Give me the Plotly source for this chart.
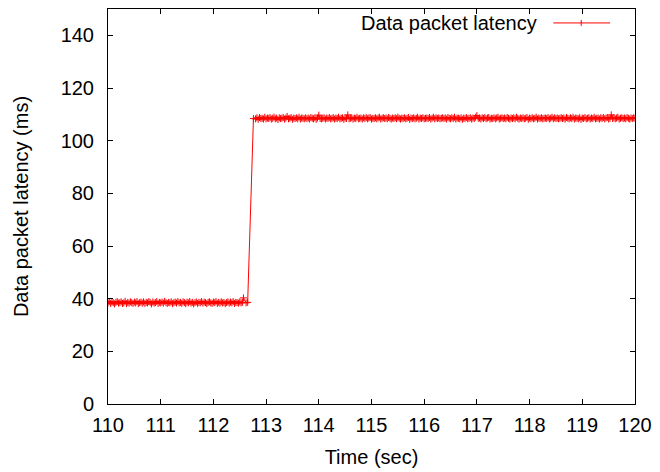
import numpy as np
import plotly.graph_objects as go

# Latency samples (ms) before the route change, sampled every 25 ms from t=110.000 s
low_start = 110.0
low_step = 0.025
low_latency = [
    38.4, 38.9, 38.2, 38.7, 38.5, 38.0, 38.6, 38.9, 38.3, 38.5,
    38.8, 38.2, 38.4, 39.0, 38.1, 38.6, 38.3, 38.8, 38.5, 38.2,
    38.7, 38.4, 38.9, 38.1, 38.5, 38.7, 38.3, 38.8, 38.2, 38.6,
    38.4, 38.9, 38.6, 38.0, 38.7, 38.3, 38.5, 38.9, 38.2, 38.6,
    38.4, 38.7, 38.3, 39.0, 38.5, 38.2, 38.6, 38.4, 38.8, 38.1,
    38.5, 38.7, 38.3, 38.9, 38.4, 38.6, 38.2, 38.8, 38.5, 38.1,
    38.7, 38.4, 38.9, 38.3, 38.6, 38.0, 38.5, 38.8, 38.2, 38.6,
    38.4, 38.9, 38.3, 38.7, 38.5, 38.1, 38.6, 38.8, 38.4, 38.2,
    38.7, 38.5, 38.9, 38.2, 38.6, 38.3, 38.8, 38.4, 38.6, 38.1,
    38.5, 38.8, 38.3, 38.7, 38.4, 38.9, 38.2, 38.6, 38.5, 38.3,
    38.8, 38.4, 38.6,
]

# Samples around the transition
transition_time = [112.57, 112.62, 112.65, 112.76]
transition_latency = [40.3, 38.4, 38.6, 108.4]

# Latency samples after the route change, every 25 ms from t=112.800 s
high_start = 112.8
high_step = 0.025
high_latency = [
    108.3, 108.7, 108.1, 108.8, 108.4, 108.5, 108.2, 108.9, 108.3, 108.6,
    108.4, 108.8, 108.2, 108.5, 108.9, 108.3, 108.6, 108.0, 108.7, 108.4,
    108.5, 108.8, 108.2, 108.6, 109.2, 108.3, 108.5, 108.8, 108.1, 108.6,
    108.4, 108.7, 108.3, 108.9, 108.2, 108.6, 108.5, 108.3, 108.7, 108.4,
    108.6, 108.2, 108.8, 108.5, 108.3, 108.7, 108.1, 108.6, 109.7, 108.4,
    108.3, 108.5, 108.7, 108.2, 108.6, 108.4, 108.8, 108.3, 108.5, 108.7,
    108.2, 108.6, 108.4, 108.9, 108.3, 108.5, 108.7, 108.1, 108.6, 108.4,
    109.8, 108.3, 108.5, 108.7, 108.2, 108.6, 108.4, 108.9, 108.3, 108.5,
    108.6, 108.2, 108.7, 108.4, 108.8, 108.3, 108.6, 108.8, 108.2, 108.5,
    108.4, 108.7, 108.3, 108.6, 108.9, 108.2, 108.5, 108.7, 108.4, 108.6,
    108.3, 108.8, 108.5, 108.2, 108.6, 108.4, 108.7, 108.3, 108.9, 108.5,
    108.2, 108.6, 108.4, 108.7, 108.3, 108.5, 108.8, 108.1, 108.6, 108.4,
    108.7, 108.3, 108.5, 108.9, 108.2, 108.6, 108.4, 108.7, 108.3, 108.5,
    108.6, 108.4, 108.8, 108.2, 108.5, 108.9, 108.3, 108.7, 108.4, 108.6,
    108.3, 108.5, 108.7, 108.4, 108.6, 108.2, 108.8, 108.5, 108.3, 108.7,
    108.4, 108.9, 108.2, 108.6, 108.5, 108.3, 108.7, 108.1, 108.6, 108.4,
    108.8, 108.3, 108.5, 108.7, 108.2, 108.6, 108.4, 108.9, 109.5, 108.5,
    108.6, 108.2, 108.7, 108.4, 108.8, 108.3, 108.6, 108.8, 108.2, 108.5,
    108.4, 108.7, 108.3, 108.6, 108.9, 108.2, 108.5, 108.7, 108.4, 108.6,
    108.3, 108.8, 108.5, 108.2, 108.6, 108.4, 108.7, 108.3, 108.9, 108.5,
    108.2, 108.6, 108.4, 108.7, 108.3, 108.5, 108.8, 108.1, 108.6, 108.4,
    108.7, 108.3, 108.5, 108.9, 108.2, 108.6, 108.4, 108.7, 108.3, 108.5,
    108.6, 108.4, 108.8, 108.2, 108.5, 108.9, 108.3, 108.7, 108.4, 108.6,
    108.3, 108.5, 108.7, 108.4, 108.6, 108.2, 108.8, 108.5, 108.3, 108.7,
    108.4, 108.9, 108.2, 108.6, 108.5, 108.3, 108.7, 108.1, 108.6, 108.4,
    108.8, 108.3, 108.5, 108.7, 108.2, 108.6, 108.4, 108.9, 108.3, 108.5,
    108.6, 108.2, 108.7, 108.4, 108.8, 108.3, 108.6, 108.8, 108.2, 108.5,
    109.8, 108.4, 108.7, 108.3, 108.6, 108.9, 108.2, 108.5, 108.7, 108.4,
    108.6, 108.3, 108.8, 108.5, 108.2, 108.6, 108.4, 108.7, 108.5,
]

x_ticks = [110, 111, 112, 113, 114, 115, 116, 117, 118, 119, 120]
y_ticks = [0, 20, 40, 60, 80, 100, 120, 140]

low_time = list(low_start + low_step * np.arange(len(low_latency)))
high_time = list(high_start + high_step * np.arange(len(high_latency)))

times = low_time + transition_time + high_time
latency = low_latency + transition_latency + high_latency

RED = "#ff0000"
FONT = "Liberation Sans, Arial, sans-serif"
FS = 20

fig = go.Figure()
fig.add_trace(go.Scatter(
    x=times, y=latency, mode="lines+markers",
    name="Data packet latency",
    line=dict(color=RED, width=1),
    marker=dict(symbol="cross-thin", size=5, line=dict(color=RED, width=1)),
    showlegend=False,
))

axis_common = dict(
    showline=True, linecolor="black", linewidth=1, mirror="ticks",
    ticks="inside", ticklen=5, tickcolor="black", tickwidth=1,
    showgrid=False, zeroline=False,
    tickfont=dict(family=FONT, size=FS, color="black"),
)

fig.update_layout(
    width=660, height=472,
    margin=dict(l=108, r=23, t=8, b=67),
    paper_bgcolor="white", plot_bgcolor="white",
    font=dict(family=FONT, size=FS, color="black"),
    xaxis=dict(range=[110, 120], tickvals=x_ticks, ticklabelstandoff=3,
               title=dict(text="Time (sec)", standoff=14,
                          font=dict(family=FONT, size=FS)),
               **axis_common),
    yaxis=dict(range=[0, 150], tickvals=y_ticks, ticklabelstandoff=9,
               title=dict(text="Data packet latency (ms)", standoff=26,
                          font=dict(family=FONT, size=FS)),
               **axis_common),
)

# Legend in the top-right corner: label followed by the line sample
legend_y = 1 - (22 - 8) / 397
x0 = (555 - 108) / 529
x1 = (612 - 108) / 529
xm = (583 - 108) / 529
fig.add_annotation(
    xref="paper", yref="paper", x=(541 - 108) / 529, y=legend_y,
    text="Data packet latency", showarrow=False,
    xanchor="right", yanchor="middle",
    font=dict(family=FONT, size=FS, color="black"),
)
fig.add_shape(type="line", xref="paper", yref="paper",
              x0=x0, x1=x1, y0=legend_y, y1=legend_y,
              line=dict(color=RED, width=1))
fig.add_shape(type="line", xref="paper", yref="paper",
              x0=xm, x1=xm, y0=legend_y - 3 / 397, y1=legend_y + 3 / 397,
              line=dict(color=RED, width=1))

fig.write_html("out.html")
